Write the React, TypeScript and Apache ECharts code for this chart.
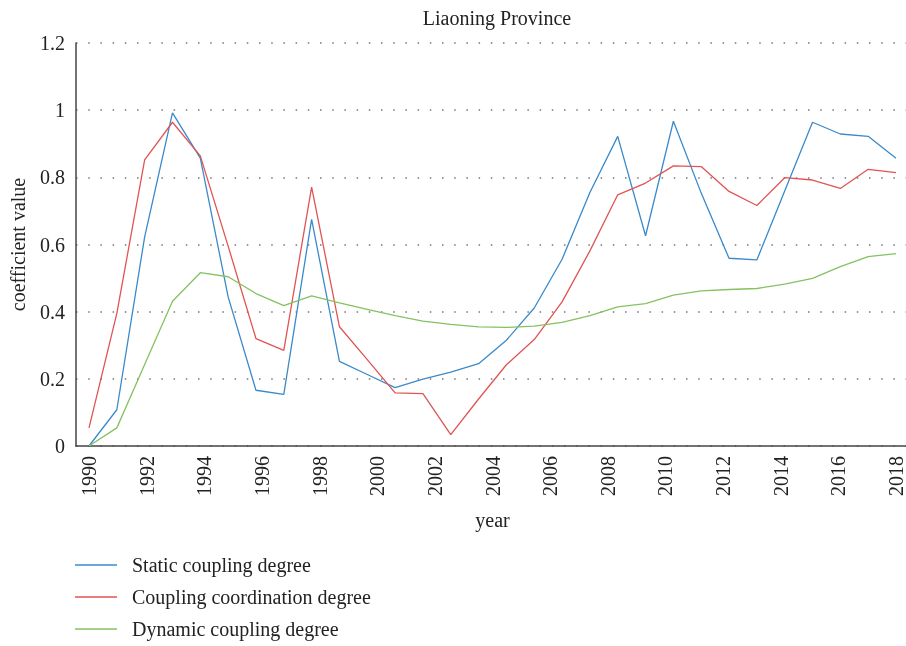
import React, { useEffect, useRef } from "react";
import * as echarts from "echarts";

const title = "Liaoning Province";
const yearTicks = [1990, 1992, 1994, 1996, 1998, 2000, 2002, 2004, 2006, 2008, 2010, 2012, 2014, 2016, 2018];
// 30 sample points spread evenly over the 1990–2018 axis
const pointIds = Array.from({ length: 30 }, (_, i) => String(i));
const staticCoupling = [
  0.0, 0.108, 0.623, 0.992, 0.857, 0.444, 0.166, 0.154, 0.675, 0.252,
  0.213, 0.174, 0.199, 0.22, 0.245, 0.315, 0.411, 0.556, 0.755, 0.922,
  0.626, 0.967, 0.753, 0.559, 0.554, 0.759, 0.964, 0.929, 0.922, 0.857,
];
const couplingCoordination = [
  0.054, 0.395, 0.852, 0.964, 0.864, 0.595, 0.32, 0.285, 0.771, 0.355,
  0.257, 0.158, 0.156, 0.034, 0.14, 0.242, 0.317, 0.429, 0.581, 0.748,
  0.783, 0.834, 0.832, 0.758, 0.716, 0.799, 0.792, 0.767, 0.824, 0.814,
];
const dynamicCoupling = [
  0.0, 0.054, 0.243, 0.431, 0.516, 0.504, 0.454, 0.418, 0.447, 0.426,
  0.407, 0.388, 0.372, 0.362, 0.355, 0.353, 0.357, 0.368, 0.388, 0.414,
  0.424, 0.449, 0.462, 0.466, 0.469, 0.482, 0.499, 0.534, 0.564, 0.573,
];
const seriesNames = ["Static coupling degree", "Coupling coordination degree", "Dynamic coupling degree"];
const colors = ["#3a8acb", "#e05454", "#84c262"];

const FONT = "'Liberation Serif', 'Times New Roman', serif";

export default function App() {
  const ref = useRef<HTMLDivElement>(null);
  useEffect(() => {
    if (!ref.current) return;
    const chart = echarts.init(ref.current, null, { renderer: "svg" });
    const gridTop = 43;
    const gridBottom = 200;
    chart.setOption({
      animation: false,
      textStyle: { fontFamily: FONT, color: "#222" },
      title: {
        text: title,
        left: 492,
        top: 3,
        textAlign: "center",
        textStyle: { fontFamily: FONT, fontSize: 20, fontWeight: "normal", color: "#222" },
      },
      legend: {
        orient: "vertical",
        left: 75,
        top: 555,
        height: 120,
        padding: 0,
        icon: "rect",
        itemWidth: 42,
        itemHeight: 1.5,
        itemGap: 12,
        data: seriesNames,
        textStyle: { fontFamily: FONT, fontSize: 20, color: "#222", padding: [0, 0, 0, 10] },
      },
      grid: [
        { left: 75, right: 0, top: gridTop, bottom: gridBottom },
        { left: 89, right: 9, top: gridTop, bottom: gridBottom },
      ],
      xAxis: [
        {
          gridIndex: 0,
          type: "value",
          min: 0,
          max: 1,
          axisLine: { show: true, onZero: false, lineStyle: { color: "#444", width: 1.5 } },
          axisTick: { show: false },
          axisLabel: { show: false },
          splitLine: { show: false },
        },
        {
          gridIndex: 1,
          type: "category",
          data: pointIds,
          boundaryGap: false,
          show: false,
        },
        {
          gridIndex: 1,
          type: "value",
          min: yearTicks[0],
          max: yearTicks[yearTicks.length - 1],
          interval: 2,
          position: "bottom",
          name: "year",
          nameLocation: "middle",
          nameGap: 64,
          nameTextStyle: { fontFamily: FONT, fontSize: 20, color: "#222" },
          axisLine: { show: false },
          axisTick: { show: false },
          splitLine: { show: false },
          axisLabel: {
            rotate: 90,
            margin: 10,
            fontFamily: FONT,
            fontSize: 20,
            color: "#222",
            formatter: (v: number) => String(v),
          },
        },
      ],
      yAxis: [
        {
          gridIndex: 0,
          type: "value",
          min: 0,
          max: 1.2,
          interval: 0.2,
          name: "coefficient value",
          nameLocation: "middle",
          nameGap: 48,
          nameTextStyle: { fontFamily: FONT, fontSize: 20, color: "#222" },
          axisLine: { show: true, lineStyle: { color: "#444", width: 1.5 } },
          axisTick: { show: false },
          axisLabel: {
            margin: 11,
            fontFamily: FONT,
            fontSize: 20,
            color: "#222",
            formatter: (v: number) => String(parseFloat(v.toFixed(1))),
          },
          splitLine: { show: true, lineStyle: { color: "#777", width: 1.5, type: [1.5, 10.7] } },
        },
        {
          gridIndex: 1,
          type: "value",
          min: 0,
          max: 1.2,
          show: false,
          splitLine: { show: false },
        },
      ],
      series: [
        { name: seriesNames[0], data: staticCoupling, color: colors[0] },
        { name: seriesNames[1], data: couplingCoordination, color: colors[1] },
        { name: seriesNames[2], data: dynamicCoupling, color: colors[2] },
      ].map((s) => ({
        type: "line",
        name: s.name,
        data: s.data,
        xAxisIndex: 1,
        yAxisIndex: 1,
        showSymbol: false,
        symbol: "none",
        itemStyle: { color: s.color },
        lineStyle: { color: s.color, width: 1.3 },
      })),
    });
    return () => chart.dispose();
  }, []);
  return <div ref={ref} style={{ position: "fixed", left: 0, top: 0, width: 906, height: 646 }} />;
}
